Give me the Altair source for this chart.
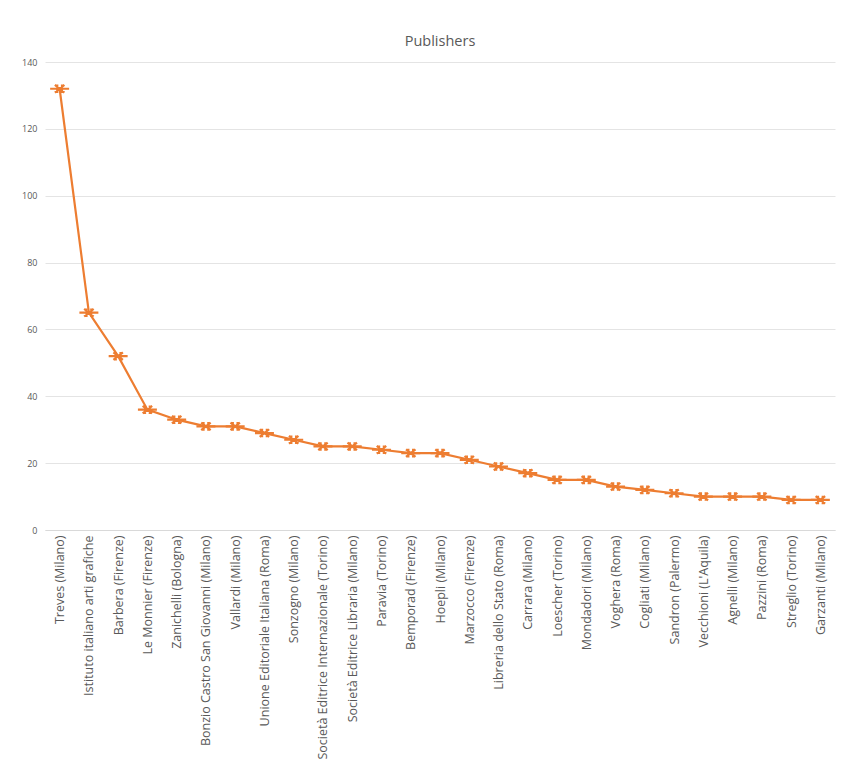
import altair as alt
import pandas as pd

publishers = [
    "Treves (Milano)", "Istituto italiano arti grafiche", "Barbera (Firenze)",
    "Le Monnier (Firenze)", "Zanichelli (Bologna)", "Bonzio Castro San Giovanni (Milano)",
    "Vallardi (Milano)", "Unione Editoriale Italiana (Roma)", "Sonzogno (Milano)",
    "Società Editrice Internazionale (Torino)", "Società Editrice Libraria (Milano)",
    "Paravia (Torino)", "Bemporad (Firenze)", "Hoepli (Milano)", "Marzocco (Firenze)",
    "Libreria dello Stato (Roma)", "Carrara (Milano)", "Loescher (Torino)",
    "Mondadori (Milano)", "Voghera (Roma)", "Cogliati (Milano)", "Sandron (Palermo)",
    "Vecchioni (L'Aquila)", "Agnelli (Milano)", "Pazzini (Roma)", "Streglio (Torino)",
    "Garzanti (Milano)",
]
counts = [132, 65, 52, 36, 33, 31, 31, 29, 27, 25, 25, 24, 23, 23, 21, 19, 17, 15,
          15, 13, 12, 11, 10, 10, 10, 9, 9]

df = pd.DataFrame({"publisher": publishers, "count": counts})

ORANGE = "#ED7D31"
GRAY = "#595959"

x = alt.X("publisher:N", sort=None, title=None,
          scale=alt.Scale(paddingInner=0, paddingOuter=0.25),
          axis=alt.Axis(labelAngle=-90, labelAlign="right", labelBaseline="middle",
                        labelFont="Open Sans", labelFontSize=12.5, labelColor=GRAY,
                        labelPadding=5, labelLimit=300, ticks=False,
                        domain=True, domainColor="#D9D9D9", grid=False))
y = alt.Y("count:Q", title=None,
          scale=alt.Scale(domain=[0, 140], nice=False),
          axis=alt.Axis(values=[0, 20, 40, 60, 80, 100, 120, 140], ticks=False, domain=False,
                        labelFont="Open Sans", labelFontSize=9, labelColor=GRAY,
                        labelPadding=8, gridColor="#E4E4E4", gridWidth=1))

base = alt.Chart(df).encode(x=x, y=y)

line = base.mark_line(color=ORANGE, strokeWidth=2.2)
star = "M-1,0L1,0M-0.25,-0.45L-0.25,0.45M0.25,-0.45L0.25,0.45M-0.5,-0.4L0.5,0.4M-0.5,0.4L0.5,-0.4"
points = base.mark_point(shape=star, size=360, color=ORANGE, strokeWidth=2.2, filled=False, opacity=1)

chart = (line + points).properties(
    width=790, height=468,
    title=alt.TitleParams("Publishers", font="Open Sans", fontSize=14.5, fontWeight="normal",
                          color=GRAY, offset=9),
    padding={"left": 45, "top": 62, "right": 25, "bottom": 244},
    autosize=alt.AutoSizeParams(type="none"),
    background="white",
).configure_view(stroke=None, strokeWidth=0)

chart.save("out.html", embed_options={"renderer": "svg", "actions": False})
